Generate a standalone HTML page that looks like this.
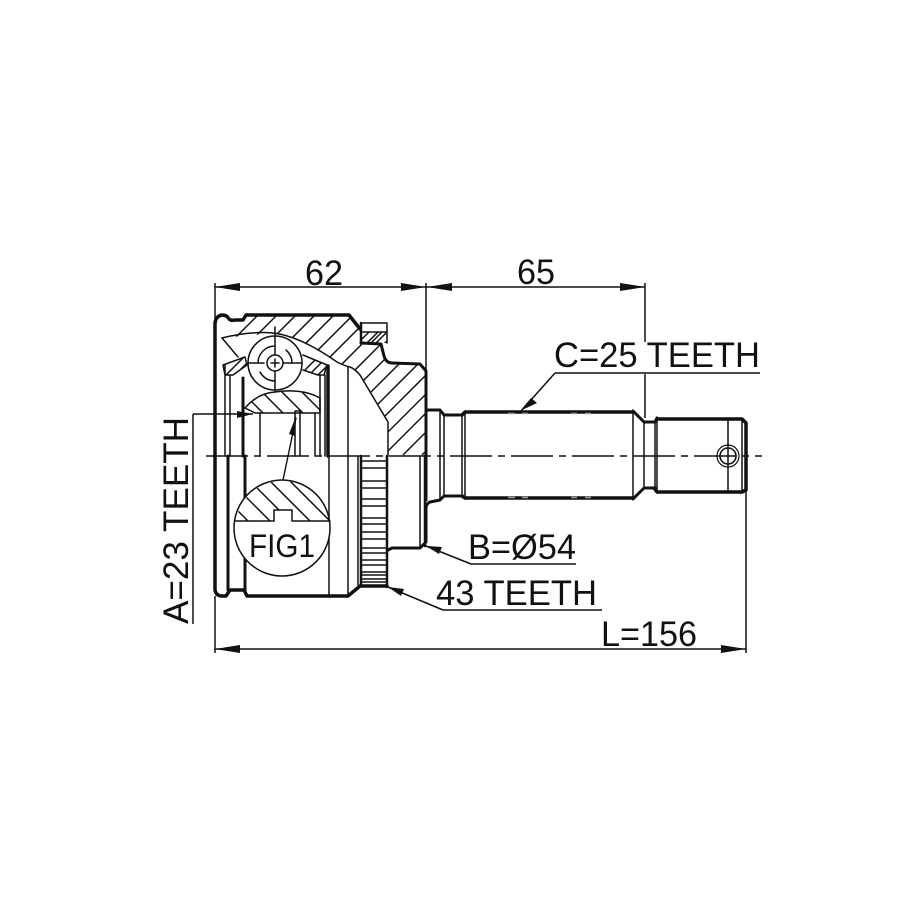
<!DOCTYPE html>
<html><head><meta charset="utf-8"><style>
html,body{margin:0;padding:0;background:#fff}
svg{display:block}
text{font-family:"Liberation Sans",sans-serif;font-size:35px;fill:#111}
</style></head><body>
<svg width="915" height="915" viewBox="0 0 915 915" xmlns="http://www.w3.org/2000/svg">
<defs>
<clipPath id="cBody"><path d="M216 325L220 317L226 316L230 321L243 321L246 316L349 316L360 330L361 343L381 345L385 358L390 363L420 364L425 372L425 456L388 456L388 422L360 375L350 367L337 362L300 340L273 333L222 338Z"/></clipPath>
<clipPath id="cBox"><path d="M361 332H387V343H361Z"/></clipPath>
<clipPath id="cCageL"><path d="M223 365L245 357L247 365L233 375H225Z"/></clipPath>
<clipPath id="cCageR"><path d="M303 355L327 365L324 375H318L303 370Z"/></clipPath>
<clipPath id="cRace"><path d="M245 408Q258 393 275 392Q302 388 320 398V413H255Z"/></clipPath>
<clipPath id="cFig"><path d="M236 521A47 47 0 0 1 329 521H292V510H274V521Z"/></clipPath>
</defs>

<g fill="none" stroke="#111" stroke-linejoin="round" stroke-linecap="round">
<!-- hatching -->
<g stroke-width="1.5" stroke-linecap="butt">
<path clip-path="url(#cBody)" d="M268 305L118 455M287 305L137 455M306 305L156 455M325 305L175 455M344 305L194 455M363 305L213 455M382 305L232 455M401 305L251 455M420 305L270 455M439 305L289 455M458 305L308 455M477 305L327 455M496 305L346 455M515 305L365 455M534 305L384 455M553 305L403 455M572 305L422 455M591 305L441 455"/>
<path clip-path="url(#cBox)" d="M400 310L360 350M391 310L351 350M382 332L360 354M409 310L369 350M418 310L378 350M427 310L387 350"/>
<path clip-path="url(#cCageL)" d="M260 350L225 385M251 350L216 385M269 350L234 385"/>
<path clip-path="url(#cCageR)" d="M330 345L295 380M339 345L304 380M348 345L313 380M357 345L322 380"/>
<path clip-path="url(#cRace)" d="M235 385L263 413M215 385L243 413M255 385L283 413M275 385L303 413M295 385L323 413"/>
</g>
<circle cx="275" cy="363" r="27" fill="#fff" stroke="none"/>

<!-- thick outlines -->
<g stroke-width="3.5">
<path d="M215 456V323Q216 316 222 315Q227 315 229 319Q231 321 235 320L243 320L246 315H349L360 329"/>
<path d="M361 343L381 344L384 356Q386 363 392 363L420 364L426 371V500" stroke-width="3"/>
<path d="M426 410H440L444 415H462M633 411L644 422H655L657 418M462 496H444L440 500L430 502Q426 504 426 508V542L420 548H392L388 550M655 488H644L633 499" stroke-width="3"/>
<path d="M462 415L465 412H633M465 498L462 496M465 498H633M657 419H742L746 423V490L742 492H657L654 488" stroke-width="3.5"/>
<path d="M215 456V590Q216 596 222 596H226L230 590H244L247 596H348L360 586"/>
<path d="M228 456V590M245 456V590M243 378V456" stroke-width="3"/>
<path d="M328 366V456" stroke-width="3.5"/>
<path d="M361 323V343M361 456V586M387 456V587" stroke-width="2.5"/>
<path d="M425 456V546" stroke-width="2.5"/>
<path d="M361 586H387" stroke-width="3.5"/>
</g>
<!-- thin -->
<g stroke-width="1.5">
<path d="M440 410V500M444 415V496M462 415V496M465 411V499M633 411V499M644 422V488M655 422V488M657 418V493M728 418V493M742 418V493"/>
<path d="M361 323H387V343M361 332H387"/>
<path d="M222 338Q250 331 273 333Q300 336 337 362Q345 366 350 367Q355 369 360 375L388 422V456"/>
<path d="M222 338L238 357"/>
<path d="M223 365L245 357L247 365L233 375H225L223 365M225 365V456M230 375V456"/>
<path d="M303 355L327 365L324 375H318L303 370M325 375V456M320 375V456"/>
<path d="M245 408Q258 393 275 392Q302 388 320 398V413H255L245 408"/>
<path d="M260 413V456M295 411V456M300 411V456M315 413V456M295 411H300"/>
<path d="M329 456V596M348 367V596M358 456V585M420 456V546"/>
<circle cx="275" cy="363" r="27"/>
<circle cx="275" cy="363" r="8"/>
<path d="M258 363A17 17 0 0 1 275 346M292 363A17 17 0 0 0 286 350M260 372A17 17 0 0 0 275 381"/>
<path d="M275 327V355M275 371V391M248 363H264M283 363H302M271 363H279M275 359V367"/>
</g>
<!-- teeth -->
<path stroke-width="1.4" stroke-linecap="butt" d="M361 461H387M361 468H387M361 481H387M361 488H387M361 499H387M361 506H387M361 518H387M361 524H387M361 532H387M361 539H387M361 548H387M361 553H387M361 560H387M361 565H387M361 572H387M361 575H387M361 579H387M361 582H387"/>

<!-- FIG1 -->
<circle cx="282" cy="528" r="48" fill="#fff" stroke-width="1.5"/>
<path clip-path="url(#cFig)" stroke-width="1.5" stroke-linecap="butt" d="M188 461L248 521M210 461L270 521M230 461L290 521M250 461L310 521M270 461L330 521M290 461L350 521"/>
<path stroke-width="1.5" d="M235 521H274V510H292V521H330"/>
<path stroke-width="1.4" d="M283 480L296 418"/>

<!-- shaft pin -->
<circle cx="728" cy="456" r="11" stroke-width="1.2"/>
<circle cx="728" cy="456" r="8" stroke-width="1.6"/>

<!-- centerline -->
<path stroke-width="1.5" stroke-dasharray="42 6 7 6" stroke-linecap="butt" d="M204 456H762" stroke-dashoffset="-2"/>

<!-- dimensions -->
<g stroke-width="1.5" stroke-linecap="butt">
<path d="M215 283V320M426 283V372M645 283V342M645 374V418"/>
<path d="M215 287H645"/>
<path d="M215 596V653M746 490V653"/>
<path d="M215 649H746"/>
<path d="M193 414H253M193 414V624"/>
<path d="M555 373H760M555 373L522 410"/>
<path d="M471 564H576M471 564L426 546"/>
<path d="M443 610H602M443 610L388 587"/>
</g>
<!-- gray spline dashes -->
<path stroke="#999" stroke-width="1.5" stroke-linecap="butt" d="M508 413.5H515M522 413.5H528M571 413.5H577M585 413.5H591M508 497.5H515M522 497.5H528M571 497.5H577M585 497.5H591"/>
</g>

<g fill="#111">
<path d="M215 287L240 283V291ZM426 287L401 283V291ZM427 287L452 283V291ZM645 287L620 283V291Z"/>
<path d="M215 649L240 645V653ZM746 649L721 645V653Z"/>
<path d="M520 411L531 398L537 403Z"/>
<path d="M426 546L442 547L439 554Z"/>
<path d="M388 587L404 589L401 596Z"/>
<path d="M237 411L253 414L237 418Z"/>
<path d="M296 416L295 436L289 434Z"/>
</g>

<text x="305" y="285" textLength="38" lengthAdjust="spacingAndGlyphs">62</text>
<text x="517" y="284" textLength="38" lengthAdjust="spacingAndGlyphs">65</text>
<text x="554" y="367" textLength="206" lengthAdjust="spacingAndGlyphs">C=25 TEETH</text>
<text x="468" y="559" textLength="108" lengthAdjust="spacingAndGlyphs">B=Ø54</text>
<text x="436" y="605" textLength="161" lengthAdjust="spacingAndGlyphs">43 TEETH</text>
<text x="601" y="646" textLength="96" lengthAdjust="spacingAndGlyphs">L=156</text>
<text x="249" y="557" style="font-size:32px" textLength="66" lengthAdjust="spacingAndGlyphs">FIG1</text>
<text transform="translate(188 624) rotate(-90)" textLength="207" lengthAdjust="spacingAndGlyphs">A=23 TEETH</text>
</svg>
</body></html>
